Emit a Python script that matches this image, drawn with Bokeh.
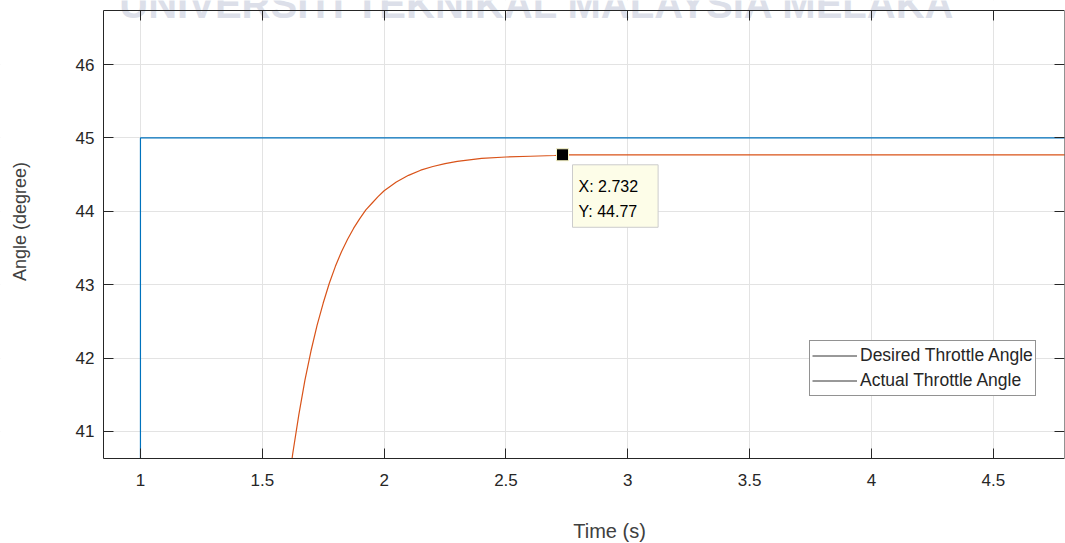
import math
from bokeh.plotting import figure
from bokeh.models import (FixedTicker, LinearAxis, Legend, LegendItem, Label,
                          CustomJSTickFormatter, Range1d, BoxAnnotation)
from bokeh.embed import file_html
from bokeh.resources import INLINE

# ---------------- data ----------------
desired_t = [0.0, 1.0, 1.0, 4.8]
desired_y = [0.0, 0.0, 45.0, 45.0]

actual_t = [1.60, 1.625, 1.65, 1.675, 1.70, 1.725, 1.75, 1.775, 1.80, 1.825, 1.85,
            1.875, 1.90, 1.925, 1.95, 1.975, 2.00, 2.05, 2.10, 2.15, 2.20, 2.25,
            2.30, 2.35, 2.40, 2.50, 2.60, 2.70, 2.732, 2.80, 3.0, 3.5, 4.0, 4.8]
actual_y = [40.09, 40.70, 41.23, 41.70, 42.10, 42.45, 42.75, 43.02, 43.25, 43.45, 43.62,
            43.77, 43.90, 44.02, 44.11, 44.20, 44.28, 44.40, 44.49, 44.56, 44.61, 44.65,
            44.68, 44.70, 44.72, 44.74, 44.75, 44.76, 44.77, 44.77, 44.77, 44.77, 44.77, 44.77]

tip_x = [2.732]
tip_y = [44.77]

x_ticks = [1, 1.5, 2, 2.5, 3, 3.5, 4, 4.5]
x_tick_labels = ["1", "1.5", "2", "2.5", "3", "3.5", "4", "4.5"]
y_ticks = [41, 42, 43, 44, 45, 46]
y_tick_labels = ["41", "42", "43", "44", "45", "46"]

series_names = ["Desired Throttle Angle", "Actual Throttle Angle"]
x_title = "Time (s)"
y_title = "Angle (degree)"
watermark = "UNIVERSITI TEKNIKAL MALAYSIA MELAKA"

# axes box limits (data units) and the full canvas extent in data units
X0, X1 = 0.8484, 4.792
Y0, Y1 = 40.632, 46.736
X_LEFT, Y_BOTTOM, Y_TOP = 0.4257, 39.474, 46.872

# ---------------- figure ----------------
FONT = "Liberation Sans"
DARK = "#262626"
TITLE_C = "#404040"

p = figure(width=1065, height=543, output_backend="svg", toolbar_location=None,
           x_range=Range1d(X_LEFT, X1), y_range=Range1d(Y_BOTTOM, Y_TOP),
           min_border_left=0, min_border_right=1, min_border_top=0,
           min_border_bottom=0)
p.background_fill_color = "white"
p.border_fill_color = "white"
p.outline_line_color = None

empty = CustomJSTickFormatter(code="return ''")

main_x = p.xaxis[0]
main_y = p.yaxis[0]
for ax, ticks, labels in ((main_x, x_ticks, x_tick_labels), (main_y, y_ticks, y_tick_labels)):
    ax.ticker = FixedTicker(ticks=ticks)
    ax.major_label_overrides = {t: l for t, l in zip(ticks, labels)}
    ax.major_tick_in = 10
    ax.major_tick_out = 0
    ax.minor_tick_in = 0
    ax.minor_tick_out = 0
    ax.axis_line_color = DARK
    ax.major_tick_line_color = DARK
    ax.major_label_text_font = FONT
    ax.major_label_text_font_size = "17px"
    ax.major_label_text_color = DARK
main_x.major_label_standoff = 15
main_y.major_label_standoff = 9
main_x.fixed_location = Y0
main_x.bounds = (X0, X1)
main_y.fixed_location = X0
main_y.bounds = (Y0, Y1)

# grids at the lowest level so the data lines are drawn over them
for g, ticks in ((p.xgrid, x_ticks), (p.ygrid, y_ticks)):
    g.ticker = FixedTicker(ticks=ticks)
    g.grid_line_color = "#e3e3e3"
    g.level = "image"


def bare_axis(ticks, loc, bounds):
    return LinearAxis(ticker=FixedTicker(ticks=ticks), formatter=empty,
                      fixed_location=loc, bounds=bounds,
                      major_tick_in=10, major_tick_out=0, minor_tick_in=0, minor_tick_out=0,
                      major_label_text_font_size="0px", major_label_standoff=0,
                      axis_line_color=DARK, major_tick_line_color=DARK)


p.below = [main_x]
p.left = [main_y]
p.above = [bare_axis(x_ticks, Y1, (X0, X1))]
p.right = [bare_axis(y_ticks, X1, (Y0, Y1))]

# ---------------- data lines (drawn low, so the margins below can mask them) ----------------
p.line(desired_t, desired_y, line_color="#0072BD", line_width=1.2, level="underlay")
p.line(actual_t, actual_y, line_color="#D95319", line_width=1.2, level="underlay")

# white margins outside the axes box hide grid lines and line parts there
for kw in (dict(bottom=Y1), dict(top=Y0), dict(right=X0)):
    p.add_layout(BoxAnnotation(fill_color="white", fill_alpha=1, line_color=None,
                               level="glyph", **kw))

# watermark across the top edge
p.add_layout(Label(x=537, y=540, x_units="screen", y_units="screen", text=watermark,
                   text_font=FONT, text_font_size="40px", text_font_style="bold",
                   text_color="#dcdfe9", text_align="center", text_baseline="middle",
                   level="glyph"))

# axis titles
p.add_layout(Label(x=609, y=13, x_units="screen", y_units="screen", text=x_title,
                   text_font=FONT, text_font_size="20px", text_color=TITLE_C,
                   text_align="center", text_baseline="middle"))
p.add_layout(Label(x=19, y=322, x_units="screen", y_units="screen", text=y_title,
                   angle=math.pi / 2, text_font=FONT, text_font_size="18px",
                   text_color=TITLE_C, text_align="center", text_baseline="middle"))

# datatip marker and box
p.scatter(tip_x, tip_y, marker="square", size=12, fill_color="black",
          line_color="#fbf8c8", line_width=1)
tip = Label(x=tip_x[0], y=tip_y[0], x_offset=10, y_offset=-10,
            text=f"X: {tip_x[0]}\nY: {tip_y[0]}",
            text_font=FONT, text_font_size="16px", text_color="black",
            text_align="left", text_baseline="top", text_line_height=1.5,
            background_fill_color="#fdfde8", border_line_color="#cccccc",
            padding=dict(left=6, right=20, top=13, bottom=7))
p.add_layout(tip)

# legend: proxy renderers (off-canvas part of the desired series) drawn in dark grey
d1 = p.line(desired_t[:2], desired_y[:2], line_color="#333333", line_width=1)
d2 = p.line(desired_t[:2], desired_y[:2], line_color="#333333", line_width=1)
legend = Legend(items=[LegendItem(label=series_names[0], renderers=[d1]),
                       LegendItem(label=series_names[1], renderers=[d2])],
                location=(809, 147), padding=2, spacing=0, margin=0,
                label_height=25, glyph_height=25, glyph_width=45, label_standoff=3,
                label_text_font=FONT, label_text_font_size="17.5px",
                label_text_color=DARK, border_line_color=DARK, border_line_width=1,
                background_fill_color="white", background_fill_alpha=1)
p.add_layout(legend)

open("out.html", "w").write(file_html(p, INLINE))
